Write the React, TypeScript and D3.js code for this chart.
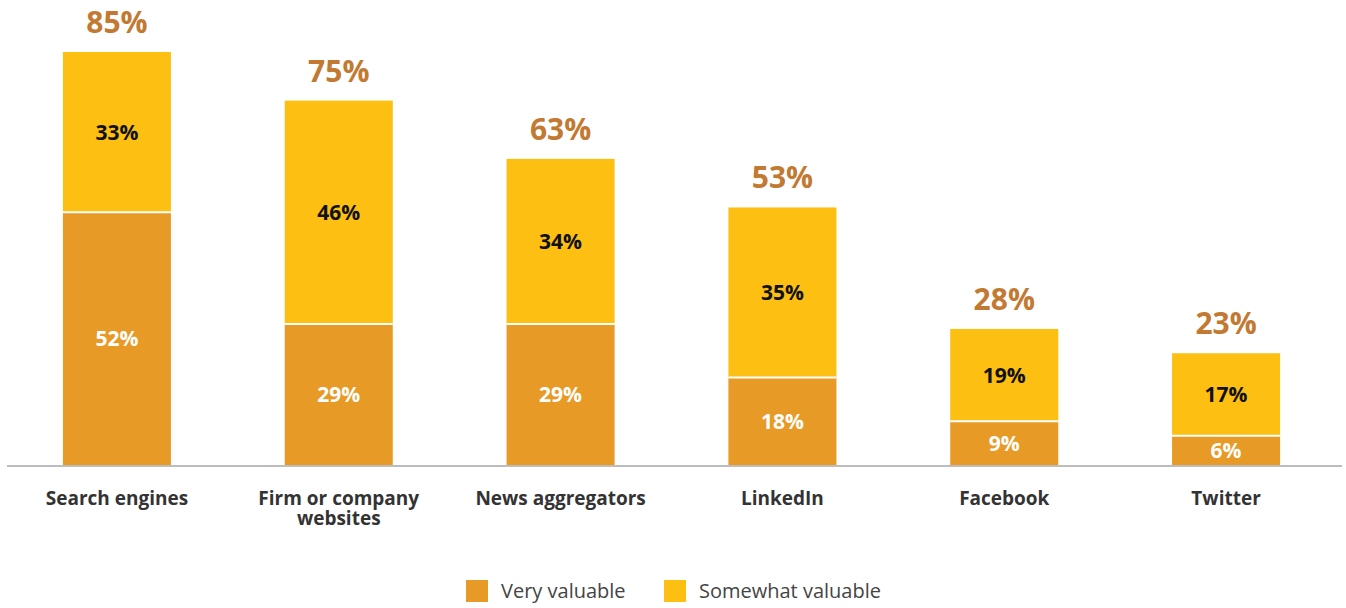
import React, { useEffect, useRef } from 'react';
import * as d3 from 'd3';

const categories = [
  ['Search engines'],
  ['Firm or company', 'websites'],
  ['News aggregators'],
  ['LinkedIn'],
  ['Facebook'],
  ['Twitter'],
];
const veryValuable = [52, 29, 29, 18, 9, 6];
const somewhatValuable = [33, 46, 34, 35, 19, 17];
const totals = [85, 75, 63, 53, 28, 23];
const seriesNames = ['Very valuable', 'Somewhat valuable'];

const COLORS = ['#E89A26', '#FCBF12'];
const TOTAL_COLOR = '#C27A33';
const FONT = '"Open Sans", Lato, sans-serif';

const App: React.FC = () => {
  const svgRef = useRef<SVGSVGElement>(null);

  useEffect(() => {
    const svg = d3.select(svgRef.current);
    svg.selectAll('*').remove();

    const width = 1346;
    const height = 608;
    const baseline = 465;

    const xScale = d3.scaleBand<number>()
      .domain(d3.range(categories.length))
      .range([6, 1337])
      .paddingInner(0.513)
      .paddingOuter(0.2565);

    const yScale = d3.scaleLinear().domain([0, 85]).range([baseline, 52]);

    svg.attr('width', width).attr('height', height).style('font-family', FONT);

    const g = svg.append('g');

    categories.forEach((_, i) => {
      const x = xScale(i) as number;
      const bw = xScale.bandwidth();
      const v = veryValuable[i];
      const s = somewhatValuable[i];
      const cx = x + bw / 2;

      // very valuable (bottom)
      g.append('rect')
        .attr('x', x)
        .attr('y', yScale(v))
        .attr('width', bw)
        .attr('height', yScale(0) - yScale(v))
        .attr('fill', COLORS[0]);

      // somewhat valuable (top)
      g.append('rect')
        .attr('x', x)
        .attr('y', yScale(v + s))
        .attr('width', bw)
        .attr('height', yScale(v) - yScale(v + s))
        .attr('fill', COLORS[1]);

      // white separator
      g.append('line')
        .attr('x1', x)
        .attr('x2', x + bw)
        .attr('y1', yScale(v))
        .attr('y2', yScale(v))
        .attr('stroke', '#fff')
        .attr('stroke-width', 2);

      g.append('text')
        .attr('x', cx)
        .attr('y', (yScale(0) + yScale(v)) / 2)
        .attr('dy', '0.36em')
        .attr('text-anchor', 'middle')
        .style('font-size', '21px')
        .style('font-weight', 700)
        .style('fill', '#fff')
        .text(`${v}%`);

      g.append('text')
        .attr('x', cx)
        .attr('y', (yScale(v) + yScale(v + s)) / 2)
        .attr('dy', '0.36em')
        .attr('text-anchor', 'middle')
        .style('font-size', '21px')
        .style('font-weight', 700)
        .style('fill', '#111')
        .text(`${s}%`);

      g.append('text')
        .attr('x', cx)
        .attr('y', yScale(totals[i]) - 19)
        .attr('text-anchor', 'middle')
        .style('font-size', '30px')
        .style('font-weight', 700)
        .style('fill', TOTAL_COLOR)
        .text(`${totals[i]}%`);

      const label = g.append('text')
        .attr('x', cx)
        .attr('y', 505)
        .attr('text-anchor', 'middle')
        .style('font-size', '19px')
        .style('font-weight', 700)
        .style('fill', '#333');
      categories[i].forEach((line, li) => {
        label.append('tspan')
          .attr('x', cx)
          .attr('dy', li === 0 ? 0 : 20)
          .text(line);
      });
    });

    // baseline
    g.append('line')
      .attr('x1', 7)
      .attr('x2', 1342)
      .attr('y1', baseline + 1)
      .attr('y2', baseline + 1)
      .attr('stroke', '#BDBDBD')
      .attr('stroke-width', 2);

    // legend
    const legendItems = [
      { x: 466, name: seriesNames[0], color: COLORS[0] },
      { x: 664, name: seriesNames[1], color: COLORS[1] },
    ];
    legendItems.forEach(item => {
      g.append('rect')
        .attr('x', item.x)
        .attr('y', 580)
        .attr('width', 22)
        .attr('height', 22)
        .attr('fill', item.color);
      g.append('text')
        .attr('x', item.x + 35)
        .attr('y', 598)
        .style('font-size', '20px')
        .style('fill', '#444')
        .text(item.name);
    });
  }, []);

  return (
    <div style={{ position: 'absolute', left: 0, top: 0 }}>
      <svg ref={svgRef}></svg>
    </div>
  );
};

export default App;
